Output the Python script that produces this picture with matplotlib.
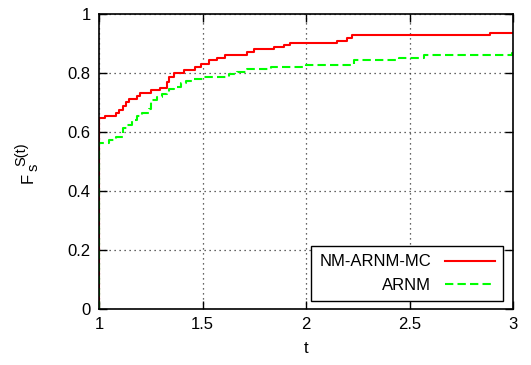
import numpy as np
import matplotlib
matplotlib.use('Agg')
import matplotlib.pyplot as plt

plt.rcParams['font.family'] = ['Liberation Sans', 'DejaVu Sans']

# step curves (t, F)
t_red = [1.0, 1.0, 1.031, 1.083, 1.096, 1.115, 1.131, 1.144, 1.184, 1.2, 1.249, 1.297,
         1.329, 1.34, 1.361, 1.41, 1.466, 1.495, 1.53, 1.571, 1.611, 1.716, 1.748,
         1.845, 1.893, 1.925, 2.15, 2.199, 2.223, 2.888, 3.0]
f_red = [0.0, 0.646, 0.654, 0.663, 0.674, 0.688, 0.703, 0.712, 0.722, 0.731, 0.742, 0.748,
         0.771, 0.788, 0.801, 0.810, 0.819, 0.830, 0.844, 0.852, 0.861, 0.872, 0.880,
         0.887, 0.895, 0.903, 0.910, 0.920, 0.928, 0.934, 0.934]

t_green = [1.0, 1.0, 1.047, 1.08, 1.115, 1.136, 1.16, 1.184, 1.208, 1.241, 1.249, 1.281,
           1.305, 1.329, 1.34, 1.361, 1.394, 1.418, 1.45, 1.5, 1.627, 1.667, 1.716,
           1.829, 2.0, 2.231, 2.448, 2.569, 2.995, 3.0]
f_green = [0.0, 0.564, 0.573, 0.584, 0.614, 0.624, 0.641, 0.654, 0.666, 0.677, 0.708, 0.720,
           0.729, 0.737, 0.745, 0.754, 0.765, 0.774, 0.779, 0.788, 0.795, 0.804, 0.812,
           0.819, 0.827, 0.844, 0.852, 0.861, 0.868, 0.868]

xticks = [1, 1.5, 2, 2.5, 3]
xticklabels = ['1', '1.5', '2', '2.5', '3']
yticks = [0, 0.2, 0.4, 0.6, 0.8, 1]
yticklabels = ['0', '0.2', '0.4', '0.6', '0.8', '1']

W, H = 531, 365
fig = plt.figure(figsize=(W / 100, H / 100), dpi=100)
ax = fig.add_axes([99 / W, 1 - 309 / H, 414 / W, 295 / H])

ax.plot(t_red, f_red, color='#ff0000', lw=1.5, drawstyle='steps-post', label='NM-ARNM-MC')
ax.plot(t_green, f_green, color='#00ff00', lw=1.5, ls=(0, (4, 2)), drawstyle='steps-post',
        label='ARNM')

ax.set_xlim(1, 3)
ax.set_ylim(0, 1)
ax.set_xticks(xticks)
ax.set_xticklabels(xticklabels)
ax.set_yticks(yticks)
ax.set_yticklabels(yticklabels)
ax.tick_params(direction='in', length=6, width=1, top=True, right=True, labelsize=12, pad=6)
for s in ax.spines.values():
    s.set_linewidth(1.2)
ax.grid(True, ls=(0, (1, 3)), color='0.2', lw=0.9)

ax.set_xlabel('t', fontsize=12, labelpad=6)

# y label F_s^{S(t)} built gnuplot-style from pieces
fig.text(28 / W, 1 - 183 / H, 'F', rotation=90, fontsize=12, ha='center', va='bottom')
fig.text(34 / W, 1 - 171 / H, 's', rotation=90, fontsize=10.5, ha='center', va='bottom')
fig.text(21 / W, 1 - 166 / H, 'S(t)', rotation=90, fontsize=10.5, ha='center', va='bottom')

leg = ax.legend(loc='lower right', bbox_to_anchor=(0.976, 0.027), borderaxespad=0,
                markerfirst=False, fancybox=False, framealpha=1, edgecolor='black',
                fontsize=12, handlelength=3.0, borderpad=0.5, labelspacing=0.5)
leg.get_frame().set_linewidth(1.0)

fig.savefig('out.png', dpi=100)
